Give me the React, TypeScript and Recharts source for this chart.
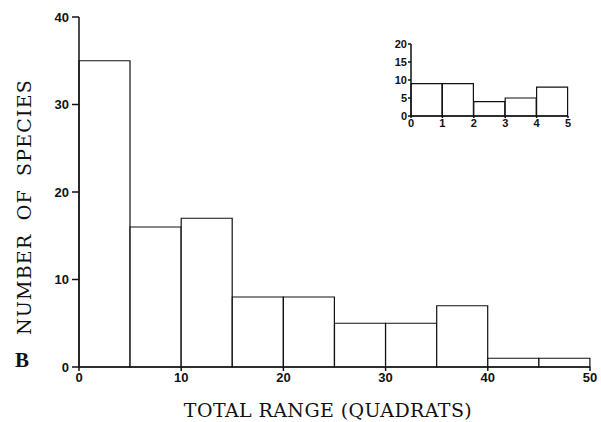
import { Bar, BarChart, XAxis, YAxis } from "recharts";

// main histogram: number of species per 5-quadrat range bin
const binStarts = [0, 5, 10, 15, 20, 25, 30, 35, 40, 45];
const binWidth = 5;
const speciesCounts = [35, 16, 17, 8, 8, 5, 5, 7, 1, 1];
const xTicks = [0, 10, 20, 30, 40, 50];
const yTicks = [0, 10, 20, 30, 40];

// inset histogram
const insetStarts = [0, 1, 2, 3, 4];
const insetWidth = 1;
const insetCounts = [9, 9, 4, 5, 8];
const insetXTicks = [0, 1, 2, 3, 4, 5];
const insetYTicks = [0, 5, 10, 15, 20];

const mainData = binStarts.map((s, i) => ({ mid: s + binWidth / 2, count: speciesCounts[i] }));
const insetData = insetStarts.map((s, i) => ({ mid: s + insetWidth / 2, count: insetCounts[i] }));

const INK = "#111";
const tickFont = { fontFamily: "Liberation Sans", fontWeight: 700, fill: INK };
const titleFont = { fontFamily: "DejaVu Serif", fontSize: 19, color: INK };

export default function App() {
  return (
    <div style={{ position: "absolute", left: 0, top: 0, width: 601, height: 422, background: "#fff" }}>
      <BarChart
        width={601}
        height={422}
        data={mainData}
        barCategoryGap={0}
        barGap={0}
        margin={{ top: 17, right: 11, bottom: 25, left: 39 }}
      >
        <XAxis
          dataKey="mid"
          type="number"
          domain={[0, 50]}
          ticks={xTicks}
          height={30}
          tickSize={4}
          tickMargin={2}
          stroke={INK}
          strokeWidth={1.5}
          tick={{ ...tickFont, fontSize: 13 }}
          interval={0}
        />
        <YAxis
          domain={[0, 40]}
          ticks={yTicks}
          width={40}
          tickSize={7}
          tickMargin={3}
          stroke={INK}
          strokeWidth={1.5}
          tick={{ ...tickFont, fontSize: 13 }}
          interval={0}
        />
        <Bar dataKey="count" fill="#fff" stroke={INK} strokeWidth={1.2} isAnimationActive={false} />
      </BarChart>

      <div style={{ position: "absolute", left: 380, top: 35 }}>
        <BarChart
          width={200}
          height={100}
          data={insetData}
          barCategoryGap={0}
          barGap={0}
          margin={{ top: 9, right: 12, bottom: 4, left: 6 }}
        >
          <XAxis
            dataKey="mid"
            type="number"
            domain={[0, 5]}
            ticks={insetXTicks}
            height={15}
            tickSize={2}
            tickMargin={1}
            stroke={INK}
            strokeWidth={1.5}
            tick={{ ...tickFont, fontSize: 11 }}
            interval={0}
          />
          <YAxis
            domain={[0, 20]}
            ticks={insetYTicks}
            width={25}
            tickSize={3}
            tickMargin={1}
            stroke={INK}
            strokeWidth={1.5}
            tick={{ ...tickFont, fontSize: 11 }}
            interval={0}
          />
          <Bar dataKey="count" fill="#fff" stroke={INK} strokeWidth={1.2} isAnimationActive={false} />
        </BarChart>
      </div>

      <div
        style={{
          ...titleFont,
          position: "absolute",
          left: 24,
          top: 207,
          transform: "translate(-50%, -50%) rotate(-90deg)",
          whiteSpace: "nowrap",
          letterSpacing: 1.2,
          wordSpacing: 6,
        }}
      >
        NUMBER OF SPECIES
      </div>
      <div
        style={{
          ...titleFont,
          position: "absolute",
          left: 328,
          top: 410,
          transform: "translate(-50%, -50%)",
          whiteSpace: "nowrap",
          letterSpacing: 0.4,
        }}
      >
        TOTAL RANGE (QUADRATS)
      </div>
      <div
        style={{
          position: "absolute",
          left: 15,
          top: 348,
          fontFamily: "Liberation Serif",
          fontWeight: 700,
          fontSize: 21,
          color: INK,
        }}
      >
        B
      </div>
    </div>
  );
}
